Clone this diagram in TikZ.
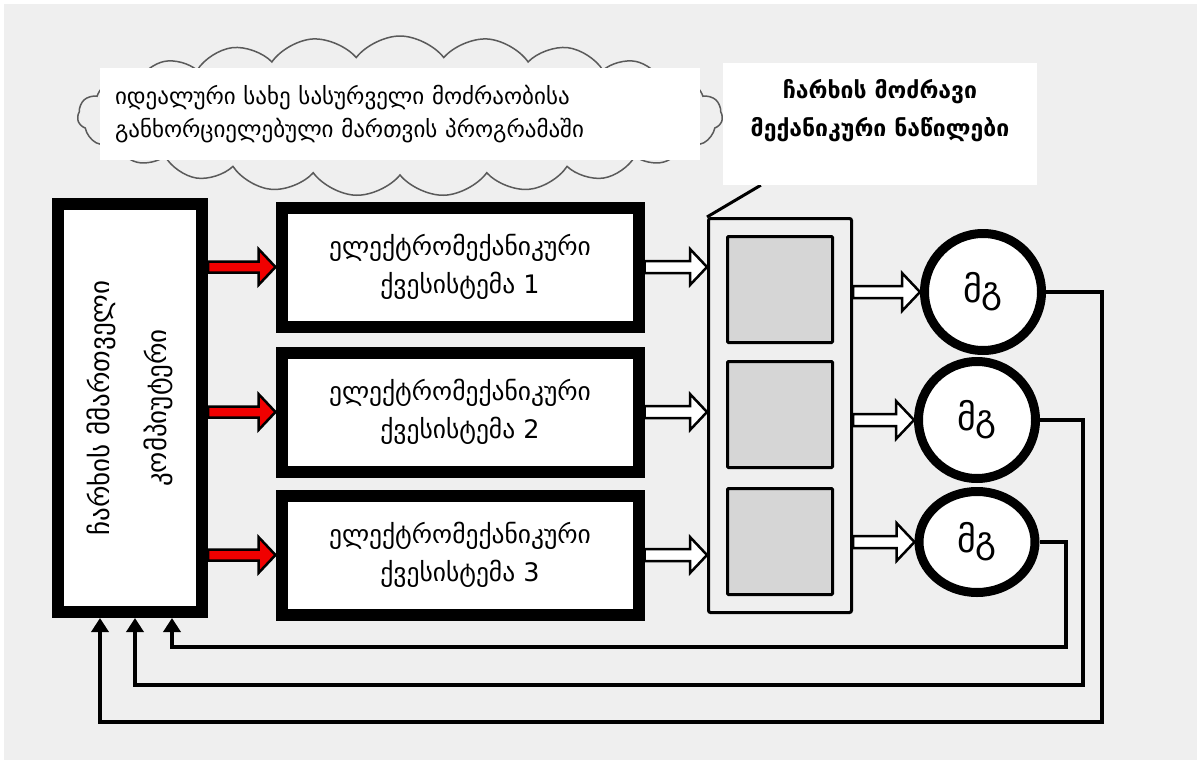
\documentclass[tikz,border=0pt]{standalone}
\usepackage{fontspec}
\setmainfont{DejaVu Sans}
\usetikzlibrary{calc,shapes.symbols,shapes.geometric,arrows.meta}

\definecolor{bg}{HTML}{EFEFEF}
\definecolor{cellgray}{HTML}{D6D6D6}
\definecolor{cloudline}{HTML}{5A5A5A}
\definecolor{signalred}{HTML}{F00000}

% fat outlined arrow: start, tip, fill, shaft half-width, head half-width, head length, outline
\newcommand\fatarrow[7]{%
  \draw[line width=#7, fill=#3, line join=miter]
    ($(#1)+(0,-#4)$) -- ($(#2)+(-#6,-#4)$) -- ($(#2)+(-#6,-#5)$) -- (#2)
    -- ($(#2)+(-#6,#5)$) -- ($(#2)+(-#6,#4)$) -- ($(#1)+(0,#4)$) -- cycle;}

\begin{document}
\begin{tikzpicture}[x=1pt,y=-1pt,
  box/.style={draw=black,line width=12pt,fill=white,inner sep=0pt,align=center},
  subsys/.style={box,minimum width=357pt,minimum height=119pt,font=\fontsize{25.5}{38}\selectfont},
  cell/.style={draw=black,line width=3pt,fill=cellgray,minimum width=105pt,minimum height=106pt,rounded corners=1pt,inner sep=0pt},
  motor/.style={circle,draw=black,line width=9pt,fill=white,minimum size=117pt,inner sep=0pt,font=\fontsize{36}{36}\selectfont},
  fb/.style={line width=4pt,-{Triangle[length=14pt,width=17pt]}},
]
% page and grey field
\fill[white] (0,0) rectangle (1197,760);
\fill[bg] (4,4) rectangle (1197,760);
\useasboundingbox (0,0) rectangle (1197,760);

% thought cloud with its text panel
\node[cloud, cloud puffs=23, cloud puff arc=105, cloud ignores aspect,
      draw=cloudline, line width=1.5pt, fill=bg, minimum width=645pt,
      minimum height=160pt, inner sep=0pt] (cloud) at (400,116) {};
\node[fill=white, minimum width=600pt, minimum height=92pt, text width=570pt,
      align=left, inner xsep=15pt, inner ysep=0pt,
      font=\fontsize{23}{33}\selectfont] (idea) at (400,114)
  {იდეალური სახე სასურველი მოძრაობისა\\განხორციელებული მართვის პროგრამაში};

% mechanical parts frame
\node[draw=black, line width=3pt, fill=bg, rounded corners=2pt, minimum width=143pt,
      minimum height=394pt, inner sep=0pt] (M) at (780,415.5) {};
\node[cell] (K1) at (780,289.5) {};
\node[cell] (K2) at (780,414.5) {};
\node[cell] (K3) at (780,541.5) {};

% caption of the mechanical parts with its leader line
\node[fill=white, minimum width=314pt, minimum height=122pt, inner sep=0pt] (T) at (880,124) {};
\coordinate (Tfoot) at ($(T.south west)+(38,0)$);
\draw[line width=3pt] (M.north west) -- (Tfoot);
\node[fill=white, minimum width=314pt, minimum height=122pt, inner sep=0pt] at (T.center) {};
\node[align=center, font=\bfseries\fontsize{23}{38}\selectfont] (Ttext) at (880,111)
  {ჩარხის მოძრავი\\მექანიკური ნაწილები};

% control computer
\node[box, minimum width=144pt, minimum height=408pt] (L) at (130,408) {};
\node[rotate=90, align=center, font=\fontsize{27}{57}\selectfont] (Ltext) at (L.center)
  {ჩარხის მმართველი\\კომპიუტერი};

% electromechanical subsystems
\node[subsys] (B1) at (460,267) {ელექტრომექანიკური\\ქვესისტემა 1};
\node[subsys] (B2) at (460,412) {ელექტრომექანიკური\\ქვესისტემა 2};
\node[subsys] (B3) at (460,555) {ელექტრომექანიკური\\ქვესისტემა 3};

% motors
\node[motor] (C1) at (983,292) {მგ};
\node[motor] (C2) at (977,420) {მგ};
\node[motor, ellipse, minimum width=116pt, minimum height=101pt] (C3) at (977,542) {მგ};

% control signals
\coordinate (s1) at (L.east |- B1.west);
\coordinate (s2) at (L.east |- B2.west);
\coordinate (s3) at (L.east |- B3.west);
\fatarrow{s1}{B1.west}{signalred}{5.5}{18}{17}{2.5pt}
\fatarrow{s2}{B2.west}{signalred}{5.5}{18}{17}{2.5pt}
\fatarrow{s3}{B3.west}{signalred}{5.5}{18}{17}{2.5pt}

% drives to mechanics
\coordinate (m1) at (M.west |- B1.east);
\coordinate (m2) at (M.west |- B2.east);
\coordinate (m3) at (M.west |- B3.east);
\fatarrow{B1.east}{m1}{white}{6}{18}{17}{2.5pt}
\fatarrow{B2.east}{m2}{white}{6}{18}{17}{2.5pt}
\fatarrow{B3.east}{m3}{white}{6}{18}{17}{2.5pt}

% mechanics to motors
\coordinate (n1) at (M.east |- C1.west);
\coordinate (n2) at (M.east |- C2.west);
\coordinate (n3) at (M.east |- C3.west);
\fatarrow{n1}{C1.west}{white}{6}{19}{18}{2.5pt}
\fatarrow{n2}{C2.west}{white}{6}{19}{18}{2.5pt}
\fatarrow{n3}{C3.west}{white}{6}{19}{18}{2.5pt}

% feedback loops
\coordinate (r1) at (1102,722);
\coordinate (r2) at (1083,685);
\coordinate (r3) at (1066,647);
\coordinate (in1) at ($(L.south)+(-30,0)$);
\coordinate (in2) at ($(L.south)+(5,0)$);
\coordinate (in3) at ($(L.south)+(42,0)$);
\draw[fb] (C1.east) -| (r1) -| (in1);
\draw[fb] (C2.east) -| (r2) -| (in2);
\draw[fb] (C3.east) -| (r3) -| (in3);
\end{tikzpicture}
\end{document}
